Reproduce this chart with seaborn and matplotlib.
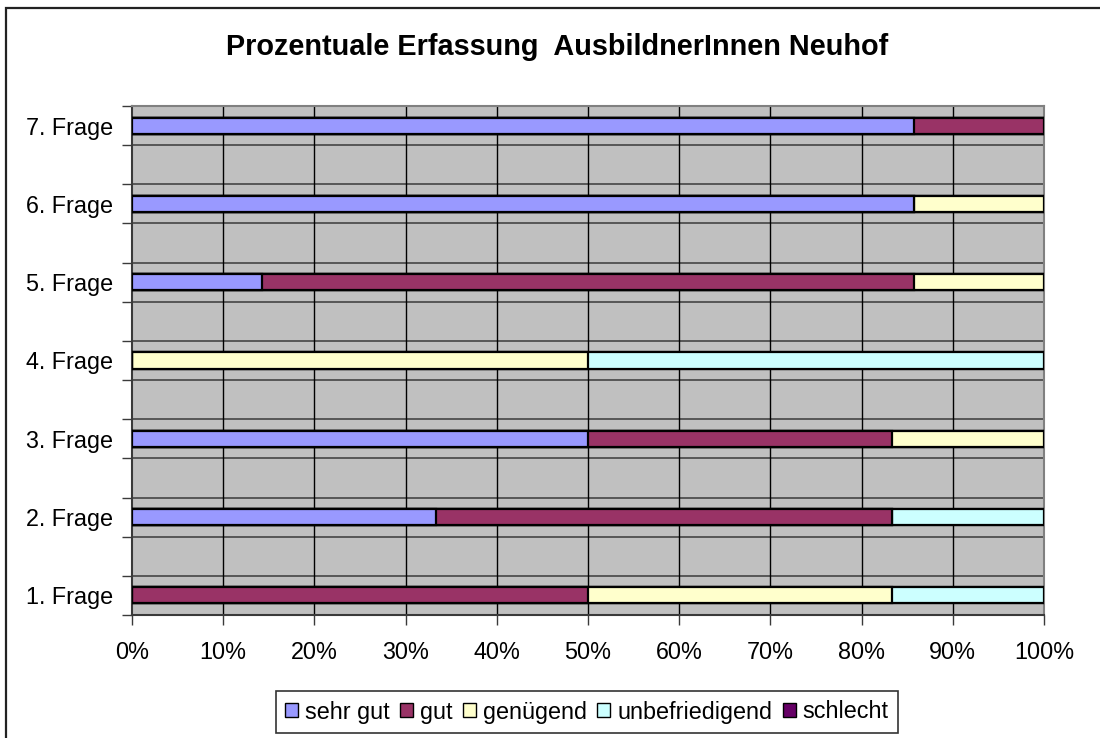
import matplotlib
matplotlib.use("Agg")
import matplotlib.pyplot as plt
from matplotlib.patches import Patch, Rectangle
from matplotlib.ticker import FixedLocator, NullFormatter
import numpy as np
import pandas as pd
import seaborn as sns

# ---- data (percent of answers per question) ----
questions = ["1. Frage", "2. Frage", "3. Frage", "4. Frage", "5. Frage", "6. Frage", "7. Frage"]
sehr_gut = [0.0, 33.3, 50.0, 0.0, 14.3, 85.7, 85.7]
gut = [50.0, 50.0, 33.3, 0.0, 71.4, 0.0, 14.3]
genuegend = [33.3, 0.0, 16.7, 50.0, 14.3, 14.3, 0.0]
unbefriedigend = [16.7, 16.7, 0.0, 50.0, 0.0, 0.0, 0.0]
schlecht = [0.0, 0.0, 0.0, 0.0, 0.0, 0.0, 0.0]
series_names = ["sehr gut", "gut", "genügend", "unbefriedigend", "schlecht"]
x_ticks = [0, 10, 20, 30, 40, 50, 60, 70, 80, 90, 100]
title = "Prozentuale Erfassung  AusbildnerInnen Neuhof"

colors = ["#9999FF", "#993366", "#FFFFCC", "#CCFFFF", "#660066"]

sns.set_theme(style="white")
plt.rcParams["font.family"] = ["Liberation Sans", "DejaVu Sans"]
plt.rcParams["text.color"] = "black"
plt.rcParams["xtick.labelcolor"] = "black"
plt.rcParams["ytick.labelcolor"] = "black"

values = [sehr_gut, gut, genuegend, unbefriedigend, schlecht]
df = pd.DataFrame({"Frage": questions})
cum = np.zeros(len(questions))
for name, vals in zip(series_names, values):
    cum = cum + np.array(vals)
    df[name] = cum.copy()

# category order top -> bottom with empty slots between questions
order = []
for i, q in enumerate(reversed(questions)):
    order.append(q)
    if i < len(questions) - 1:
        order.append(f"_gap{i}")

fig = plt.figure(figsize=(11, 7.38), dpi=100)
ax = fig.add_axes([132 / 1100, 1 - 615 / 738, (1044 - 132) / 1100, (615 - 106) / 738])
ax.set_facecolor("#C0C0C0")

# stacked bars via overlay of cumulative totals (last series first)
for name, col in reversed(list(zip(series_names, colors))):
    sns.barplot(data=df, x=name, y="Frage", order=order, orient="h",
                color=col, saturation=1, width=0.41, edgecolor="black",
                linewidth=1.6, ax=ax, zorder=3, errorbar=None)

n = len(order)
ax.set_ylim(n - 0.5, -0.5)
ax.set_xlim(0, 100)

# grid: horizontal lines at slot boundaries, vertical at every 10%
bounds = np.arange(-0.5, n, 1.0)
for b in bounds[1:-1]:
    ax.axhline(b, color="#3a3a3a", lw=1.1, zorder=1)
for xv in x_ticks[1:-1]:
    ax.axvline(xv, color="black", lw=1.0, zorder=1)

ax.yaxis.set_major_locator(FixedLocator(bounds))
ax.yaxis.set_major_formatter(NullFormatter())
label_pos = [order.index(q) for q in questions]
ax.yaxis.set_minor_locator(FixedLocator(label_pos))
ax.set_yticks(label_pos, questions, minor=True)
ax.tick_params(axis="y", which="major", direction="out", length=7, width=1.0,
               color="#3a3a3a", left=True)
ax.tick_params(axis="y", which="minor", length=0, pad=13.5, labelsize=16.8,
               labelcolor="black")

ax.set_xticks(x_ticks, [f"{v}%" for v in x_ticks])
ax.tick_params(axis="x", direction="out", length=7, width=1.0, color="#3a3a3a",
               bottom=True, pad=12, labelsize=16.8, labelcolor="black")
ax.set_xlabel("")
ax.set_ylabel("")
for s in ["top", "right"]:
    ax.spines[s].set_color("#808080")
    ax.spines[s].set_linewidth(1.5)
for s in ["left", "bottom"]:
    ax.spines[s].set_color("#3a3a3a")
    ax.spines[s].set_linewidth(1.5)

fig.text(557 / 1100, 1 - 47 / 738, title, ha="center", va="center",
         fontsize=20.8, fontweight="bold", color="black")

handles = [Patch(facecolor=c, edgecolor="black", linewidth=1.0) for c in colors]
leg = fig.legend(handles, series_names, loc="center", ncol=5,
                 bbox_to_anchor=(587 / 1100, 1 - 712 / 738),
                 fontsize=16.8, frameon=True, fancybox=False, shadow=False,
                 handlelength=0.55, handleheight=0.55, handletextpad=0.3,
                 columnspacing=0.45, borderpad=0.4, borderaxespad=0)
leg.get_frame().set_edgecolor("black")
leg.get_frame().set_linewidth(1.2)
leg.get_frame().set_boxstyle("square", pad=0)
for t in leg.get_texts():
    t.set_color("black")

fig.add_artist(Rectangle((5.5 / 1100, -0.05), 1.2, 1.05 - 7.5 / 738,
                         transform=fig.transFigure, fill=False,
                         edgecolor="#222222", linewidth=1.6))

fig.savefig("out.png", dpi=100, facecolor="white")
